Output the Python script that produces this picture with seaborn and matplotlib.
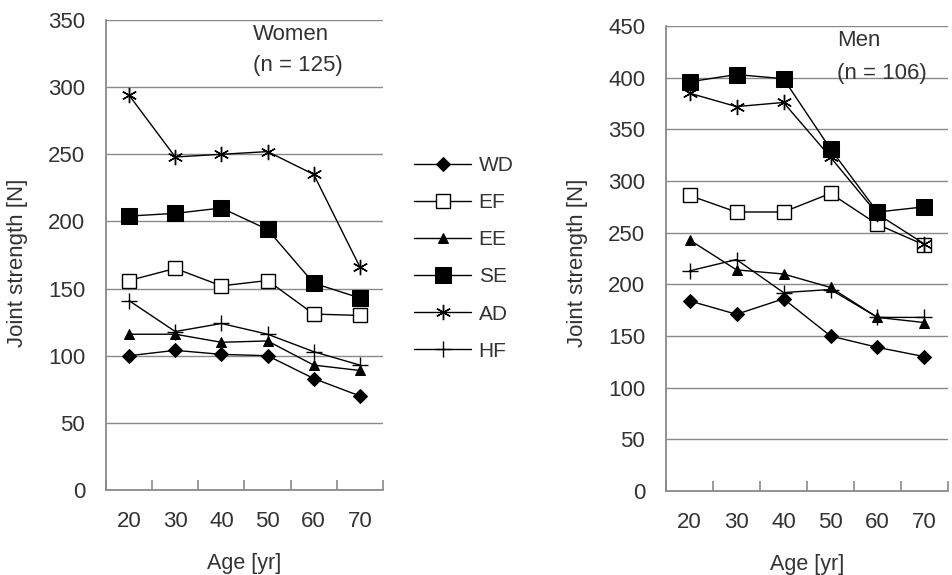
import matplotlib
matplotlib.use("Agg")
import matplotlib.pyplot as plt
import seaborn as sns
import pandas as pd

# ---- data ----
ages = ["20", "30", "40", "50", "60", "70"]
joints = ["WD", "EF", "EE", "SE", "AD", "HF"]

women_WD = [100, 104, 101, 100, 83, 70]
women_EF = [156, 165, 152, 156, 131, 130]
women_EE = [116, 116, 110, 111, 93, 89]
women_SE = [204, 206, 210, 194, 154, 143]
women_AD = [294, 248, 250, 252, 235, 166]
women_HF = [141, 118, 124, 116, 103, 93]

men_WD = [184, 171, 186, 150, 139, 130]
men_EF = [286, 270, 270, 288, 258, 238]
men_EE = [243, 214, 210, 197, 168, 163]
men_SE = [396, 403, 399, 331, 270, 275]
men_AD = [385, 372, 376, 323, 268, 239]
men_HF = [213, 224, 192, 195, 168, 168]

women_title = ["Women", "(n = 125)"]
men_title = ["Men", "(n = 106)"]

women_yticks = [0, 50, 100, 150, 200, 250, 300, 350]
men_yticks = [0, 50, 100, 150, 200, 250, 300, 350, 400, 450]

# ---- styles ----
marker_style = {
    "WD": dict(marker="D", ms=7.5, mfc="black", mec="black"),
    "EF": dict(marker="s", ms=9.5, mfc="white", mec="black", mew=1.0),
    "EE": dict(marker="^", ms=7.5, mfc="black", mec="black"),
    "SE": dict(marker="s", ms=11.5, mfc="black", mec="black"),
    "AD": dict(marker=(6, 2, 0), ms=11, mfc="black", mec="black", mew=1.0),
    "HF": dict(marker="+", ms=11, mfc="black", mec="black", mew=1.0),
}


def long_df(series):
    rows = []
    for j, vals in zip(joints, series):
        for i, (a, v) in enumerate(zip(ages, vals)):
            rows.append({"pos": i, "age": a, "joint": j, "value": v})
    return pd.DataFrame(rows)


df_w = long_df([women_WD, women_EF, women_EE, women_SE, women_AD, women_HF])
df_m = long_df([men_WD, men_EF, men_EE, men_SE, men_AD, men_HF])

sns.set_theme(style="white")
plt.rcParams["font.family"] = ["Liberation Sans", "DejaVu Sans"]

fig = plt.figure(figsize=(9.53, 5.75), dpi=100)
W, H = 953, 575
ax1 = fig.add_axes([106 / W, 1 - 490 / H, (383 - 106) / W, (490 - 20) / H])
ax2 = fig.add_axes([666 / W, 1 - 491 / H, (948 - 666) / W, (491 - 26) / H])

grid_c = "#8a8a8a"
text_c = "#333333"


def draw(ax, df, yticks, title, title_x, title_y):
    for j in joints:
        sub = df[df["joint"] == j]
        sns.lineplot(data=sub, x="pos", y="value", ax=ax, color="black",
                     linewidth=1.0, label=j, legend=False,
                     **marker_style[j])
    ax.set_xlim(-0.5, len(ages) - 0.5)
    ax.set_ylim(yticks[0], yticks[-1])
    ax.set_yticks(yticks)
    ax.set_xticks(range(len(ages)))
    ax.set_xticklabels(ages)
    ax.set_xticks([i - 0.5 for i in range(len(ages) + 1)], minor=True)
    ax.tick_params(axis="x", which="major", length=0, pad=15, labelsize=16,
                   colors=text_c)
    ax.tick_params(axis="x", which="minor", length=7, direction="in",
                   color=grid_c, width=1.2, bottom=True)
    ax.tick_params(axis="y", length=0, pad=15, labelsize=16, colors=text_c)
    ax.yaxis.grid(True, color=grid_c, linewidth=1.0)
    ax.xaxis.grid(False)
    ax.set_axisbelow(True)
    for s in ["top", "right"]:
        ax.spines[s].set_visible(False)
    for s in ["left", "bottom"]:
        ax.spines[s].set_color(grid_c)
        ax.spines[s].set_linewidth(1.3)
    ax.set_xlabel("Age [yr]", fontsize=15.5, color=text_c, labelpad=15)
    ax.set_ylabel("Joint strength [N]", fontsize=16, color=text_c,
                  va="center")
    ax.text(title_x, title_y[0], title[0], transform=ax.transAxes,
            fontsize=16, color=text_c, ha="left", va="center")
    ax.text(title_x, title_y[1], title[1], transform=ax.transAxes,
            fontsize=16, color=text_c, ha="left", va="center")


draw(ax1, df_w, women_yticks, women_title, (253 - 106) / 277,
     [(490 - 35) / 470, (490 - 65) / 470])
draw(ax2, df_m, men_yticks, men_title, (837 - 666) / 282,
     [(491 - 40) / 465, (491 - 73) / 465])

ax1.yaxis.set_label_coords((18 - 106) / 277, (490 - 263) / 470)
ax2.yaxis.set_label_coords((578 - 666) / 282, (491 - 263) / 465)

handles, labels = ax1.get_legend_handles_labels()
fig.legend(handles, labels, loc="upper left",
           bbox_to_anchor=(414 / W, 1 - 156 / H), frameon=False,
           fontsize=15, labelspacing=0.87, handlelength=2.75,
           handletextpad=0.35, borderpad=0, borderaxespad=0,
           labelcolor=text_c)

fig.savefig("out.png", dpi=100, facecolor="white")
